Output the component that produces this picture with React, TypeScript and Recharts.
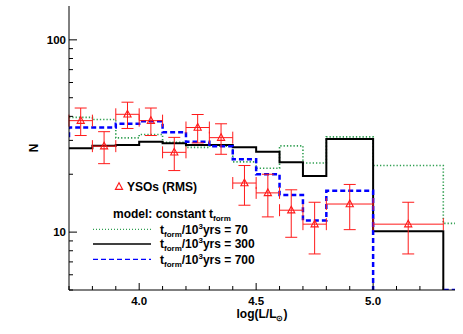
import React from 'react';
import { ComposedChart, Line, Scatter, XAxis, YAxis, ErrorBar, Legend } from 'recharts';

// model histograms: bin left edges (log L/Lsun) and counts N (stepAfter)
const edges70 = [3.7, 3.8, 3.9, 4.0, 4.1, 4.2, 4.3, 4.4, 4.5, 4.6, 4.7, 4.8, 5.0, 5.3, 5.4];
const model70 = [39.5, 38.5, 30.9, 32.2, 29.3, 27.6, 28.0, 23.2, 21.5, 28.1, 22.9, 31.3, 22.2, 11.1, 11.1];

const edges300 = [3.7, 3.8, 3.9, 4.0, 4.1, 4.2, 4.3, 4.4, 4.5, 4.6, 4.7, 4.8, 5.0, 5.3];
const model300 = [27.3, 28.1, 28.4, 29.5, 29.0, 28.4, 28.4, 27.6, 26.2, 23.1, 19.6, 30.5, 10.1, 4];

const edges700 = [3.6, 3.7, 3.8, 3.9, 4.0, 4.1, 4.2, 4.3, 4.4, 4.5, 4.6, 4.7, 4.8, 5.0, 5.3, 5.4];
const model700 = [30.9, 35.0, 35.0, 36.6, 37.7, 33.1, 29.5, 28.0, 23.9, 20.0, 15.6, 11.5, 16.4, 4, 5, 5];

// observed YSOs (RMS)
const ysoLogL = [3.75, 3.85, 3.95, 4.05, 4.15, 4.25, 4.35, 4.45, 4.55, 4.65, 4.75, 4.9, 5.15];
const ysoN = [38, 28, 41, 38, 26, 35, 31, 18, 16, 13, 11, 14, 11];
const ysoErrN = [6.2, 5.3, 6.4, 6.2, 5.1, 5.9, 5.6, 4.2, 4.0, 3.6, 3.3, 3.7, 3.3];
const ysoErrLogL = [0.05, 0.05, 0.05, 0.05, 0.05, 0.05, 0.05, 0.05, 0.05, 0.05, 0.05, 0.1, 0.15];

// axes
const xDomain = [3.7, 5.35];
const xTicks = [3.7, 3.8, 3.9, 4.0, 4.1, 4.2, 4.3, 4.4, 4.5, 4.6, 4.7, 4.8, 4.9, 5.0, 5.1, 5.2, 5.3];
const xMajor = [4.0, 4.5, 5.0];
const yDomain = [5, 150];
const yTicks = [5, 6, 7, 8, 9, 10, 20, 30, 40, 50, 60, 70, 80, 90, 100];
const yMajor = [10, 100];

const d70 = edges70.map((x, i) => ({ x, n: model70[i] }));
const d300 = edges300.map((x, i) => ({ x, n: model300[i] }));
const d700 = edges700.map((x, i) => ({ x, n: model700[i] }));
const dYso = ysoLogL.map((x, i) => ({ x, n: ysoN[i], en: ysoErrN[i], ex: ysoErrLogL[i] }));

const FONT = "'Liberation Sans', Arial, Helvetica, sans-serif";
const GREEN = '#2e9e4f';
const RED = '#ff1a1a';
const isIn = (arr: number[], v: number) => arr.some((a) => Math.abs(a - v) < 1e-6);

const BottomTick = (props: any) => {
  const { x, y, payload } = props;
  const major = isIn(xMajor, payload.value);
  return (
    <g>
      <line x1={x} y1={y} x2={x} y2={y - (major ? 7 : 4)} stroke="#000" strokeWidth={1} />
      {major && (
        <text x={x} y={y + 15} textAnchor="middle" fontSize={11.5} fontWeight="bold" fontFamily={FONT} fill="#000">
          {Number(payload.value).toFixed(1)}
        </text>
      )}
    </g>
  );
};

const TopTick = (props: any) => {
  const { x, y, payload } = props;
  const major = isIn(xMajor, payload.value);
  return <line x1={x} y1={y} x2={x} y2={y + (major ? 7 : 4)} stroke="#000" strokeWidth={1} />;
};

const LeftTick = (props: any) => {
  const { x, y, payload } = props;
  const major = isIn(yMajor, payload.value);
  return (
    <g>
      <line x1={x} y1={y} x2={x + (major ? 8 : 4)} y2={y} stroke="#000" strokeWidth={1} />
      {major && (
        <text x={x - 3} y={y + 4.2} textAnchor="end" fontSize={11.5} fontWeight="bold" fontFamily={FONT} fill="#000">
          {payload.value}
        </text>
      )}
    </g>
  );
};

const RightTick = (props: any) => {
  const { x, y, payload } = props;
  const major = isIn(yMajor, payload.value);
  return <line x1={x} y1={y} x2={x - (major ? 8 : 4)} y2={y} stroke="#000" strokeWidth={1} />;
};

const Triangle = (props: any) => {
  const { cx, cy } = props;
  return (
    <polygon
      points={`${cx},${cy - 4} ${cx - 3.6},${cy + 2.7} ${cx + 3.6},${cy + 2.7}`}
      fill="none"
      stroke={RED}
      strokeWidth={1.1}
    />
  );
};

const XTitle = (props: any) => {
  const vb = props.viewBox || {};
  return (
    <text x={vb.x + vb.width / 2} y={vb.y + 28} textAnchor="middle" fontSize={12} fontWeight="bold" fontFamily={FONT} fill="#000">
      <tspan>log(L/L</tspan>
      <tspan fontSize={8} dy={3}>⊙</tspan>
      <tspan dy={-3}>)</tspan>
    </text>
  );
};

const YTitle = (props: any) => {
  const vb = props.viewBox || {};
  const cx = vb.x + 34;
  const cy = vb.y + vb.height / 2;
  return (
    <text x={cx} y={cy} textAnchor="middle" dominantBaseline="central" transform={`rotate(-90 ${cx} ${cy})`} fontSize={12} fontWeight="bold" fontFamily={FONT} fill="#000">
      N
    </text>
  );
};

const TForm = ({ x, y, value }: { x: number; y: number; value: string }) => (
  <text x={x} y={y} fontSize={12} fontWeight="bold" fontFamily={FONT} fill="#000">
    <tspan>t</tspan>
    <tspan fontSize={8} dy={3}>form</tspan>
    <tspan dy={-3}>/10</tspan>
    <tspan fontSize={8} dy={-5}>3</tspan>
    <tspan dy={5}>yrs = {value}</tspan>
  </text>
);

const LegendBox = () => (
  <svg width={240} height={100} style={{ display: 'block', overflow: 'visible' }}>
    <polygon points="34,7.7 30.4,14.4 37.6,14.4" fill="none" stroke={RED} strokeWidth={1.1} />
    <text x={42} y={16} fontSize={12} fontWeight="bold" fontFamily={FONT} fill="#000">YSOs (RMS)</text>
    <text x={28} y={42.5} fontSize={12} fontWeight="bold" fontFamily={FONT} fill="#000">
      <tspan>model: constant t</tspan>
      <tspan fontSize={8} dy={3}>form</tspan>
    </text>
    <line x1={8} y1={54.3} x2={66} y2={54.3} stroke={GREEN} strokeWidth={1.2} strokeDasharray="1 2" />
    <TForm x={75} y={58.6} value="70" />
    <line x1={8} y1={69} x2={66} y2={69} stroke="#000" strokeWidth={1.3} />
    <TForm x={75} y={73.3} value="300" />
    <line x1={8} y1={84.3} x2={66} y2={84.3} stroke="#0000ff" strokeWidth={1.3} strokeDasharray="5 3" />
    <TForm x={75} y={88.6} value="700" />
  </svg>
);

export default function App() {
  return (
    <div style={{ position: 'absolute', left: 0, top: 0, background: '#fff' }}>
      <ComposedChart width={463} height={334} margin={{ top: 6, right: 8, bottom: 0, left: 0 }} style={{ fontFamily: FONT }}>
        <XAxis
          dataKey="x"
          type="number"
          domain={xDomain}
          allowDataOverflow
          ticks={xTicks}
          interval={0}
          height={44}
          tickSize={0}
          tickMargin={0}
          tickLine={false}
          tick={<BottomTick />}
          axisLine={{ stroke: '#000', strokeWidth: 1 }}
          label={XTitle}
        />
        <XAxis
          xAxisId="top"
          orientation="top"
          dataKey="x"
          type="number"
          domain={xDomain}
          allowDataOverflow
          ticks={xTicks}
          interval={0}
          height={0}
          tickSize={0}
          tickMargin={0}
          tickLine={false}
          tick={<TopTick />}
          axisLine={{ stroke: '#000', strokeWidth: 1 }}
        />
        <YAxis
          dataKey="n"
          type="number"
          scale="log"
          domain={yDomain}
          allowDataOverflow
          ticks={yTicks}
          interval={0}
          width={69}
          tickSize={0}
          tickMargin={0}
          tickLine={false}
          tick={<LeftTick />}
          axisLine={{ stroke: '#000', strokeWidth: 1 }}
          label={YTitle}
        />
        <YAxis
          yAxisId="right"
          orientation="right"
          dataKey="n"
          type="number"
          scale="log"
          domain={yDomain}
          allowDataOverflow
          ticks={yTicks}
          interval={0}
          width={0}
          tickSize={0}
          tickMargin={0}
          tickLine={false}
          tick={<RightTick />}
          axisLine={{ stroke: '#000', strokeWidth: 1 }}
        />
        <Line data={d70} dataKey="n" type="stepAfter" stroke={GREEN} strokeWidth={1.6} strokeDasharray="1.3 2" dot={false} activeDot={false} isAnimationActive={false} />
        <Line data={d300} dataKey="n" type="stepAfter" stroke="#000" strokeWidth={2} dot={false} activeDot={false} isAnimationActive={false} />
        <Line data={d700} dataKey="n" type="stepAfter" stroke="#0000ff" strokeWidth={2.5} strokeDasharray="5 3" dot={false} activeDot={false} isAnimationActive={false} />
        <Scatter data={dYso} dataKey="n" shape={<Triangle />} isAnimationActive={false}>
          <ErrorBar dataKey="en" direction="y" width={6} stroke={RED} strokeWidth={1} />
          <ErrorBar dataKey="ex" direction="x" width={6} stroke={RED} strokeWidth={1} />
        </Scatter>
        <Legend
          layout="horizontal"
          verticalAlign="middle"
          align="center"
          content={() => <LegendBox />}
          wrapperStyle={{ left: 85, top: 175, width: 240, height: 100 }}
        />
      </ComposedChart>
    </div>
  );
}
